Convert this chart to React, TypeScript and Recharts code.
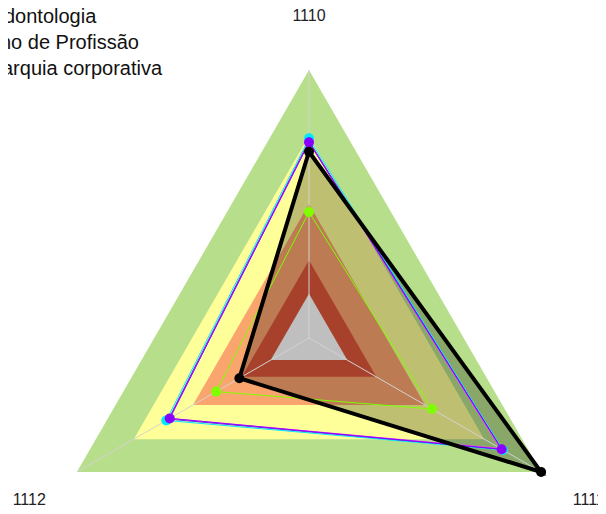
import { RadarChart, Radar, PolarGrid, PolarAngleAxis, PolarRadiusAxis } from 'recharts'

const axes = ['1110', '1111', '1112']

// background bands, outer -> inner (0-100 scale)
const bandLevels = [100, 75.5, 50, 29, 16.5]
const bandColors = ['#b7df8b', '#ffff99', '#fba56e', '#a8412c', '#bfbfbf']

const cyanValues = [74.5, 83.5, 61.5]
const blueValues = [73.5, 83, 60.5]
const magentaValues = [73, 82.5, 60]
const purpleValues = [73, 83, 60]
const greenValues = [47, 53, 40]
const blackValues = [69.5, 100, 30]

// legend is cut off by the left edge in the original
const legendLabels = ['dontologia', 'no de Profissão', 'arquia corporativa']
const legendOffsets = [-4, -8, -6]

const data = axes.map((axis, i) => ({
  axis,
  band0: bandLevels[0],
  band1: bandLevels[1],
  band2: bandLevels[2],
  band3: bandLevels[3],
  band4: bandLevels[4],
  cyan: cyanValues[i],
  blue: blueValues[i],
  magenta: magentaValues[i],
  purple: purpleValues[i],
  green: greenValues[i],
  black: blackValues[i],
}))

const CX = 301
const CY = 330
const OUTER = 268
const LABEL_R = 323
const FONT = '"Liberation Sans", Arial, sans-serif'

function AngleTick({ payload }: any) {
  const a = (payload.coordinate * Math.PI) / 180
  return (
    <text
      x={CX + LABEL_R * Math.cos(a)}
      y={CY - LABEL_R * Math.sin(a)}
      textAnchor="middle"
      dominantBaseline="central"
      fontSize={16}
      fontFamily={FONT}
      fill="#222"
    >
      {payload.value}
    </text>
  )
}

export default function App() {
  return (
    <div style={{ position: 'relative', width: 598, height: 506, fontFamily: FONT }}>
      <RadarChart
        width={598}
        height={506}
        data={data}
        cx={CX}
        cy={CY}
        outerRadius={OUTER}
        margin={{ top: 0, right: 0, bottom: 0, left: 0 }}
      >
        <PolarAngleAxis dataKey="axis" tick={<AngleTick />} axisLine={false} tickLine={false} />
        <PolarRadiusAxis domain={[0, 100]} tick={false} axisLine={false} />
        <Radar dataKey="band0" stroke="none" fill={bandColors[0]} fillOpacity={1} isAnimationActive={false} />
        <Radar dataKey="band1" stroke="none" fill={bandColors[1]} fillOpacity={1} isAnimationActive={false} />
        <Radar dataKey="band2" stroke="none" fill={bandColors[2]} fillOpacity={1} isAnimationActive={false} />
        <Radar dataKey="black" stroke="none" fill="#000" fillOpacity={0.25} isAnimationActive={false} />
        <Radar dataKey="band3" stroke="none" fill={bandColors[3]} fillOpacity={1} isAnimationActive={false} />
        <Radar dataKey="band4" stroke="none" fill={bandColors[4]} fillOpacity={1} isAnimationActive={false} />
        <PolarGrid gridType="polygon" polarRadius={[]} stroke="#d2d2d2" strokeWidth={1} zIndex={150} />
        <Radar zIndex={200} dataKey="cyan" stroke="#00e8ff" strokeWidth={1} fill="none" dot={{ r: 5, fill: '#00e8ff', stroke: 'none' }} isAnimationActive={false} />
        <Radar zIndex={200} dataKey="blue" stroke="#2a2aff" strokeWidth={1} fill="none" isAnimationActive={false} />
        <Radar zIndex={200} dataKey="magenta" stroke="#ff40ff" strokeWidth={1} fill="none" isAnimationActive={false} />
        <Radar zIndex={200} dataKey="purple" stroke="#8a00ff" strokeWidth={1} fill="none" dot={{ r: 5, fill: '#8a00ff', stroke: 'none' }} isAnimationActive={false} />
        <Radar zIndex={200} dataKey="green" stroke="#7fff00" strokeWidth={1} fill="none" dot={{ r: 5, fill: '#7fff00', stroke: 'none' }} isAnimationActive={false} />
        <Radar zIndex={200} dataKey="black" stroke="#000" strokeWidth={4} fill="none" dot={{ r: 5, fill: '#000', stroke: 'none' }} isAnimationActive={false} />
      </RadarChart>
      <div style={{ position: 'absolute', left: 0, top: -5, fontSize: 20, lineHeight: '26px', color: '#111', whiteSpace: 'nowrap' }}>
        {legendLabels.map((label, i) => (
          <div key={label} style={{ marginLeft: legendOffsets[i] }}>{label}</div>
        ))}
      </div>
    </div>
  )
}
